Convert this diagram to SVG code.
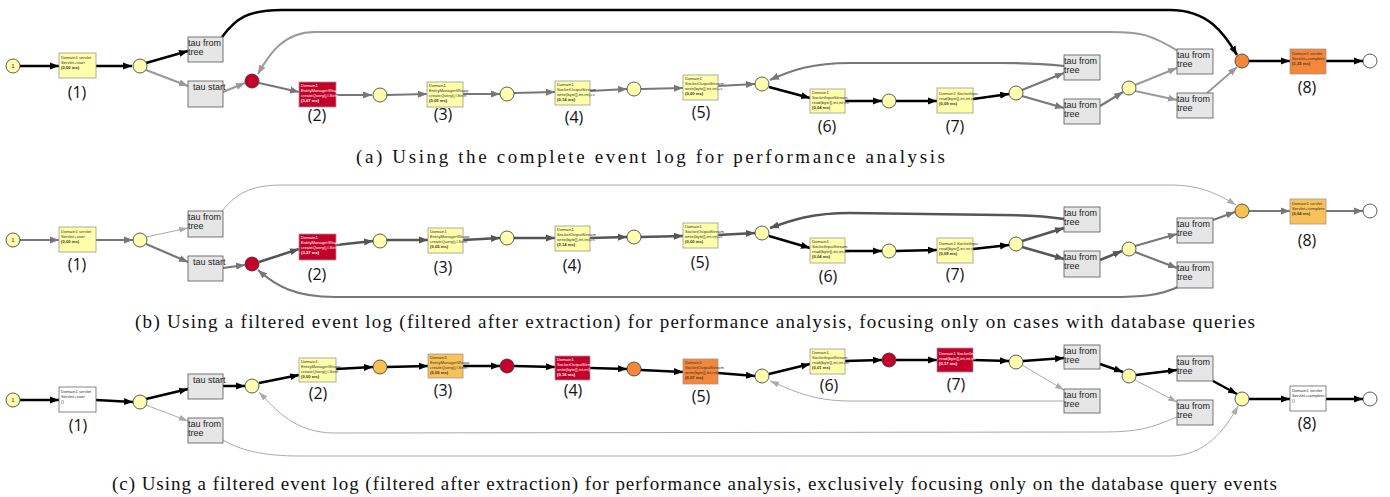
<svg xmlns="http://www.w3.org/2000/svg" width="1390" height="497" viewBox="0 0 1390 497">
<style>
.bg{fill:#fff}
.p{fill:#ffffb0;stroke:#333;stroke-width:.8}
.pr{fill:#c4002a;stroke:#333;stroke-width:.8}
.po{fill:#f5873a;stroke:#333;stroke-width:.8}
.py{fill:#f8c050;stroke:#333;stroke-width:.8}
.pw{fill:#fff;stroke:#333;stroke-width:.8}
.t{fill:#ffffaa;stroke:#999;stroke-width:.8}
.tr{fill:#c4002a;stroke:#999;stroke-width:.8}
.to{fill:#f5873a;stroke:#999;stroke-width:.8}
.ty{fill:#f8c258;stroke:#999;stroke-width:.8}
.tw{fill:#fff;stroke:#666;stroke-width:.8}
.tau{fill:#e6e6e6;stroke:#555;stroke-width:.8}
.tt{font-family:"Liberation Sans",Arial,sans-serif;font-size:4.2px;fill:#333}
.tw2{fill:#fff}
.b{font-weight:bold}
.taut{font-family:"Liberation Sans",Arial,sans-serif;font-size:9px;fill:#222}
.lbl{font-family:"Open Sans","Liberation Sans",sans-serif;font-size:16px;fill:#111;text-anchor:middle}
.num{font-family:"Liberation Sans",Arial,sans-serif;font-size:6px;fill:#333;text-anchor:middle}
.cap{font-family:"Liberation Serif","Times New Roman",serif;font-size:19px;fill:#111}
.e{fill:none}
.k{stroke:#000;stroke-width:2.5;marker-end:url(#mk)}
.d{stroke:#555;stroke-width:2.5;marker-end:url(#md)}
.g{stroke:#777;stroke-width:2.2;marker-end:url(#mg)}
.l{stroke:#999;stroke-width:2;marker-end:url(#ml)}
.th{stroke:#aaa;stroke-width:1;marker-end:url(#mt)}
</style>
<defs>
<marker id="mk" markerUnits="userSpaceOnUse" markerWidth="10" markerHeight="8" refX="9" refY="4" orient="auto"><path d="M0,0.5 L9,4 L0,7.5 z" fill="#000"/></marker>
<marker id="md" markerUnits="userSpaceOnUse" markerWidth="10" markerHeight="8" refX="9" refY="4" orient="auto"><path d="M0,0.5 L9,4 L0,7.5 z" fill="#555"/></marker>
<marker id="mg" markerUnits="userSpaceOnUse" markerWidth="10" markerHeight="8" refX="9" refY="4" orient="auto"><path d="M0,0.5 L9,4 L0,7.5 z" fill="#777"/></marker>
<marker id="ml" markerUnits="userSpaceOnUse" markerWidth="10" markerHeight="8" refX="9" refY="4" orient="auto"><path d="M0,0.5 L9,4 L0,7.5 z" fill="#999"/></marker>
<marker id="mt" markerUnits="userSpaceOnUse" markerWidth="10" markerHeight="8" refX="9" refY="4" orient="auto"><path d="M0,1 L9,4 L0,7 z" fill="#aaa"/></marker>
</defs>
<rect class="bg" width="1390" height="497"/>

<!-- ===== connectors ===== -->
<g id="connectors" class="e">
<!-- row a -->
<path class="k" d="M222,37 C236,18 248,10 282,10 L1170,10 C1208,10 1224,33 1237,55"/>
<path class="l" d="M1178,51 C1150,34 1140,32 1110,32 L315,32 C285,32 270,52 258,74"/>
<path class="g" d="M1064,66 C1045,64 1020,63 1000,63 L850,63 C812,63 792,70 770,80"/>
<line class="k" x1="20" y1="66" x2="59" y2="66"/>
<line class="k" x1="96" y1="66" x2="132" y2="66"/>
<line class="k" x1="146" y1="63" x2="188" y2="51"/>
<line class="l" x1="146" y1="70" x2="188" y2="86"/>
<line class="l" x1="223" y1="92" x2="245" y2="83"/>
<line class="g" x1="259" y1="83" x2="299" y2="92"/>
<line class="g" x1="336" y1="95" x2="372" y2="95"/>
<line class="g" x1="387" y1="95" x2="427" y2="94"/>
<line class="g" x1="463" y1="94" x2="500" y2="94"/>
<line class="g" x1="514" y1="93" x2="555" y2="92"/>
<line class="g" x1="590" y1="91" x2="627" y2="89"/>
<line class="g" x1="641" y1="89" x2="683" y2="88"/>
<line class="g" x1="718" y1="86" x2="755" y2="84"/>
<line class="k" x1="769" y1="87" x2="810" y2="98"/>
<line class="k" x1="845" y1="101" x2="882" y2="101"/>
<line class="k" x1="896" y1="101" x2="937" y2="101"/>
<line class="k" x1="973" y1="99" x2="1009" y2="94"/>
<line class="g" x1="1022" y1="90" x2="1064" y2="73"/>
<line class="g" x1="1022" y1="96" x2="1064" y2="108"/>
<line class="g" x1="1100" y1="106" x2="1123" y2="92"/>
<line class="l" x1="1135" y1="85" x2="1177" y2="68"/>
<line class="l" x1="1135" y1="91" x2="1177" y2="100"/>
<line class="l" x1="1207" y1="93" x2="1237" y2="67"/>
<line class="k" x1="1249" y1="61" x2="1290" y2="61"/>
<line class="k" x1="1326" y1="61" x2="1363" y2="61"/>
<!-- row b -->
<path class="th" d="M222,211 C236,194 250,185 282,185 L1170,185 C1200,185 1218,194 1236,205"/>
<path class="d" d="M1064,219 C1040,215 1020,215 1000,215 L850,213 C812,213 792,220 770,228"/>
<path class="g" d="M1180,286 C1160,296 1140,297 1110,297 L335,297 C295,297 276,286 258,270"/>
<line class="g" x1="20" y1="240" x2="59" y2="240"/>
<line class="g" x1="96" y1="240" x2="133" y2="240"/>
<line class="th" x1="146" y1="237" x2="188" y2="228"/>
<line class="g" x1="146" y1="244" x2="188" y2="262"/>
<line class="g" x1="223" y1="268" x2="245" y2="265"/>
<line class="d" x1="259" y1="262" x2="299" y2="249"/>
<line class="d" x1="336" y1="245" x2="373" y2="241"/>
<line class="d" x1="387" y1="240" x2="428" y2="240"/>
<line class="d" x1="463" y1="240" x2="500" y2="238"/>
<line class="d" x1="514" y1="238" x2="555" y2="238"/>
<line class="d" x1="590" y1="238" x2="627" y2="237"/>
<line class="d" x1="641" y1="237" x2="683" y2="236"/>
<line class="d" x1="718" y1="235" x2="755" y2="233"/>
<line class="k" x1="769" y1="236" x2="810" y2="248"/>
<line class="k" x1="845" y1="251" x2="882" y2="251"/>
<line class="k" x1="896" y1="251" x2="937" y2="250"/>
<line class="k" x1="973" y1="249" x2="1009" y2="245"/>
<line class="d" x1="1022" y1="241" x2="1064" y2="228"/>
<line class="d" x1="1022" y1="247" x2="1064" y2="259"/>
<line class="d" x1="1100" y1="260" x2="1122" y2="251"/>
<line class="g" x1="1135" y1="246" x2="1177" y2="234"/>
<line class="g" x1="1135" y1="252" x2="1177" y2="268"/>
<line class="g" x1="1213" y1="220" x2="1235" y2="212"/>
<line class="g" x1="1249" y1="211" x2="1290" y2="211"/>
<line class="g" x1="1326" y1="211" x2="1363" y2="211"/>
<!-- row c -->
<path class="th" d="M1064,401 L850,401 C812,401 792,390 770,381"/>
<path class="th" d="M1177,417 C1150,428 1140,432 1100,432 L335,433 C295,433 276,410 259,392"/>
<path class="th" d="M223,440 C240,450 262,456 300,456 L1170,456 C1205,456 1225,430 1238,406"/>
<line class="k" x1="20" y1="400" x2="59" y2="400"/>
<line class="k" x1="96" y1="400" x2="133" y2="402"/>
<line class="k" x1="146" y1="399" x2="188" y2="389"/>
<line class="th" x1="146" y1="405" x2="188" y2="421"/>
<line class="k" x1="223" y1="386" x2="245" y2="386"/>
<line class="k" x1="259" y1="383" x2="299" y2="375"/>
<line class="k" x1="336" y1="369" x2="373" y2="367"/>
<line class="k" x1="387" y1="367" x2="428" y2="366"/>
<line class="k" x1="463" y1="366" x2="500" y2="366"/>
<line class="k" x1="514" y1="366" x2="555" y2="367"/>
<line class="k" x1="590" y1="368" x2="627" y2="369"/>
<line class="k" x1="641" y1="370" x2="683" y2="372"/>
<line class="k" x1="718" y1="373" x2="755" y2="376"/>
<line class="k" x1="769" y1="374" x2="810" y2="364"/>
<line class="k" x1="845" y1="361" x2="882" y2="360"/>
<line class="k" x1="896" y1="360" x2="937" y2="360"/>
<line class="k" x1="973" y1="360" x2="1009" y2="361"/>
<line class="k" x1="1023" y1="361" x2="1064" y2="358"/>
<line class="th" x1="1022" y1="365" x2="1064" y2="390"/>
<line class="k" x1="1100" y1="364" x2="1123" y2="372"/>
<line class="k" x1="1136" y1="375" x2="1177" y2="370"/>
<line class="th" x1="1135" y1="380" x2="1177" y2="402"/>
<line class="k" x1="1213" y1="381" x2="1237" y2="394"/>
<line class="k" x1="1249" y1="399" x2="1290" y2="399"/>
<line class="k" x1="1326" y1="399" x2="1363" y2="399"/>
</g>

<!-- ===== row a nodes ===== -->
<g id="a-start"><circle class="p" cx="13" cy="66" r="7"/><text class="num" x="13" y="68">1</text></g>
<g id="a-t1"><rect class="t" x="59" y="53" width="37" height="25"/><text class="tt" x="61" y="59">Domain1 servlet</text><text class="tt" x="61" y="64">Servlet+start</text><text class="tt b" x="61" y="69">(0,00 ms)</text><text class="lbl" x="77" y="98">(1)</text></g>
<g id="a-p1"><circle class="p" cx="140" cy="66" r="7"/></g>
<g id="a-tau1"><rect class="tau" x="188" y="37" width="35" height="25"/><text class="taut" x="188" y="46">tau from</text><text class="taut" x="188" y="55">tree</text></g>
<g id="a-tau2"><rect class="tau" x="188" y="81" width="35" height="26"/><text class="taut" x="193" y="90">tau start</text></g>
<g id="a-p2"><circle class="pr" cx="252" cy="81" r="7"/></g>
<g id="a-t2"><rect class="tr" x="299" y="82" width="37" height="25"/><text class="tt tw2" x="301" y="87">Domain1</text><text class="tt tw2" x="301" y="92">EntityManagerWrapp</text><text class="tt tw2" x="301" y="97">createQuery(j.l.Strin</text><text class="tt tw2 b" x="301" y="102">(3,67 ms)</text><text class="lbl" x="317" y="121">(2)</text></g>
<g id="a-p3"><circle class="p" cx="380" cy="95" r="7"/></g>
<g id="a-t3"><rect class="t" x="427" y="82" width="36" height="25"/><text class="tt" x="429" y="87">Domain1</text><text class="tt" x="429" y="92">EntityManagerWrapp</text><text class="tt" x="429" y="97">createQuery(j.l.Strin</text><text class="tt b" x="429" y="102">(0,05 ms)</text><text class="lbl" x="443" y="120">(3)</text></g>
<g id="a-p4"><circle class="p" cx="507" cy="94" r="7"/></g>
<g id="a-t4"><rect class="t" x="555" y="81" width="35" height="24"/><text class="tt" x="557" y="86">Domain1</text><text class="tt" x="557" y="91">SocketOutputStream</text><text class="tt" x="557" y="96">write(byte[],int,int)+s</text><text class="tt b" x="557" y="101">(0,14 ms)</text><text class="lbl" x="574" y="123">(4)</text></g>
<g id="a-p5"><circle class="p" cx="634" cy="89" r="7"/></g>
<g id="a-t5"><rect class="t" x="683" y="75" width="35" height="25"/><text class="tt" x="685" y="80">Domain1</text><text class="tt" x="685" y="85">SocketOutputStream</text><text class="tt" x="685" y="90">write(byte[],int,int)+c</text><text class="tt b" x="685" y="95">(0,00 ms)</text><text class="lbl" x="701" y="118">(5)</text></g>
<g id="a-p6"><circle class="p" cx="762" cy="84" r="7"/></g>
<g id="a-t6"><rect class="t" x="810" y="89" width="35" height="24"/><text class="tt" x="812" y="94">Domain1</text><text class="tt" x="812" y="99">SocketInputStream</text><text class="tt" x="812" y="104">read(byte[],int,int,int</text><text class="tt b" x="812" y="109">(0,04 ms)</text><text class="lbl" x="827" y="132">(6)</text></g>
<g id="a-p7"><circle class="p" cx="889" cy="101" r="7"/></g>
<g id="a-t7"><rect class="t" x="937" y="88" width="36" height="25"/><text class="tt" x="939" y="95">Domain1 SocketInpu</text><text class="tt" x="939" y="100">read(byte[],int,int,int</text><text class="tt b" x="939" y="105">(0,09 ms)</text><text class="lbl" x="955" y="132">(7)</text></g>
<g id="a-p8"><circle class="p" cx="1016" cy="93" r="7"/></g>
<g id="a-tau3"><rect class="tau" x="1064" y="55" width="36" height="25"/><text class="taut" x="1064" y="64">tau from</text><text class="taut" x="1064" y="73">tree</text></g>
<g id="a-tau4"><rect class="tau" x="1064" y="99" width="36" height="25"/><text class="taut" x="1064" y="108">tau from</text><text class="taut" x="1064" y="117">tree</text></g>
<g id="a-p9"><circle class="p" cx="1129" cy="88" r="7"/></g>
<g id="a-tau5"><rect class="tau" x="1177" y="49" width="36" height="25"/><text class="taut" x="1177" y="58">tau from</text><text class="taut" x="1177" y="67">tree</text></g>
<g id="a-tau6"><rect class="tau" x="1177" y="93" width="36" height="25"/><text class="taut" x="1177" y="102">tau from</text><text class="taut" x="1177" y="111">tree</text></g>
<g id="a-p10"><circle class="po" cx="1242" cy="61" r="7"/></g>
<g id="a-t8"><rect class="to" x="1290" y="49" width="36" height="25"/><text class="tt" x="1292" y="55">Domain1 servlet</text><text class="tt" x="1292" y="60">Servlet+complete</text><text class="tt b" x="1292" y="65">(1,35 ms)</text><text class="lbl" x="1307" y="93">(8)</text></g>
<g id="a-end"><circle class="pw" cx="1370" cy="61" r="7"/></g>
<text class="cap" x="356" y="163" textLength="589" lengthAdjust="spacing">(a) Using the complete event log for performance analysis</text>

<!-- ===== row b nodes ===== -->
<g id="b-start"><circle class="p" cx="13" cy="240" r="7"/><text class="num" x="13" y="242">1</text></g>
<g id="b-t1"><rect class="t" x="59" y="227" width="37" height="25"/><text class="tt" x="61" y="233">Domain1 servlet</text><text class="tt" x="61" y="238">Servlet+start</text><text class="tt b" x="61" y="243">(0,00 ms)</text><text class="lbl" x="77" y="270">(1)</text></g>
<g id="b-p1"><circle class="p" cx="140" cy="240" r="7"/></g>
<g id="b-tau1"><rect class="tau" x="188" y="211" width="35" height="26"/><text class="taut" x="188" y="220">tau from</text><text class="taut" x="188" y="229">tree</text></g>
<g id="b-tau2"><rect class="tau" x="188" y="256" width="35" height="25"/><text class="taut" x="193" y="265">tau start</text></g>
<g id="b-p2"><circle class="pr" cx="252" cy="264" r="7"/></g>
<g id="b-t2"><rect class="tr" x="299" y="234" width="37" height="26"/><text class="tt tw2" x="301" y="239">Domain1</text><text class="tt tw2" x="301" y="244">EntityManagerWrapp</text><text class="tt tw2" x="301" y="249">createQuery(j.l.Strin</text><text class="tt tw2 b" x="301" y="254">(3,57 ms)</text><text class="lbl" x="317" y="280">(2)</text></g>
<g id="b-p3"><circle class="p" cx="380" cy="241" r="7"/></g>
<g id="b-t3"><rect class="t" x="428" y="228" width="35" height="25"/><text class="tt" x="430" y="233">Domain1</text><text class="tt" x="430" y="238">EntityManagerWrapp</text><text class="tt" x="430" y="243">createQuery(j.l.Strin</text><text class="tt b" x="430" y="248">(0,05 ms)</text><text class="lbl" x="443" y="273">(3)</text></g>
<g id="b-p4"><circle class="p" cx="507" cy="238" r="7"/></g>
<g id="b-t4"><rect class="t" x="555" y="226" width="35" height="25"/><text class="tt" x="557" y="231">Domain1</text><text class="tt" x="557" y="236">SocketOutputStream</text><text class="tt" x="557" y="241">write(byte[],int,int)+s</text><text class="tt b" x="557" y="246">(0,14 ms)</text><text class="lbl" x="572" y="271">(4)</text></g>
<g id="b-p5"><circle class="p" cx="634" cy="237" r="7"/></g>
<g id="b-t5"><rect class="t" x="683" y="223" width="35" height="25"/><text class="tt" x="685" y="228">Domain1</text><text class="tt" x="685" y="233">SocketOutputStream</text><text class="tt" x="685" y="238">write(byte[],int,int)+c</text><text class="tt b" x="685" y="243">(0,00 ms)</text><text class="lbl" x="700" y="268">(5)</text></g>
<g id="b-p6"><circle class="p" cx="762" cy="233" r="7"/></g>
<g id="b-t6"><rect class="t" x="810" y="238" width="35" height="25"/><text class="tt" x="812" y="243">Domain1</text><text class="tt" x="812" y="248">SocketInputStream</text><text class="tt" x="812" y="253">read(byte[],int,int,int</text><text class="tt b" x="812" y="258">(0,04 ms)</text><text class="lbl" x="828" y="282">(6)</text></g>
<g id="b-p7"><circle class="p" cx="889" cy="251" r="7"/></g>
<g id="b-t7"><rect class="t" x="937" y="238" width="36" height="25"/><text class="tt" x="939" y="245">Domain1 SocketInpu</text><text class="tt" x="939" y="250">read(byte[],int,int,int</text><text class="tt b" x="939" y="255">(0,09 ms)</text><text class="lbl" x="955" y="280">(7)</text></g>
<g id="b-p8"><circle class="p" cx="1016" cy="244" r="7"/></g>
<g id="b-tau3"><rect class="tau" x="1064" y="207" width="36" height="25"/><text class="taut" x="1064" y="216">tau from</text><text class="taut" x="1064" y="225">tree</text></g>
<g id="b-tau4"><rect class="tau" x="1064" y="251" width="36" height="26"/><text class="taut" x="1064" y="260">tau from</text><text class="taut" x="1064" y="269">tree</text></g>
<g id="b-p9"><circle class="p" cx="1129" cy="249" r="7"/></g>
<g id="b-tau5"><rect class="tau" x="1177" y="218" width="36" height="25"/><text class="taut" x="1177" y="227">tau from</text><text class="taut" x="1177" y="236">tree</text></g>
<g id="b-tau6"><rect class="tau" x="1177" y="262" width="36" height="26"/><text class="taut" x="1177" y="271">tau from</text><text class="taut" x="1177" y="280">tree</text></g>
<g id="b-p10"><circle class="py" cx="1242" cy="211" r="7"/></g>
<g id="b-t8"><rect class="ty" x="1290" y="199" width="36" height="25"/><text class="tt" x="1292" y="205">Domain1 servlet</text><text class="tt" x="1292" y="210">Servlet+complete</text><text class="tt b" x="1292" y="215">(0,64 ms)</text><text class="lbl" x="1307" y="246">(8)</text></g>
<g id="b-end"><circle class="pw" cx="1370" cy="211" r="7"/></g>
<text class="cap" x="135" y="328" textLength="1120" lengthAdjust="spacing">(b) Using a filtered event log (filtered after extraction) for performance analysis, focusing only on cases with database queries</text>

<!-- ===== row c nodes ===== -->
<g id="c-start"><circle class="p" cx="13" cy="400" r="7"/><text class="num" x="13" y="402">1</text></g>
<g id="c-t1"><rect class="tw" x="59" y="387" width="37" height="25"/><text class="tt" x="61" y="393">Domain1 servlet</text><text class="tt" x="61" y="398">Servlet+start</text><text class="tt" x="61" y="403">()</text><text class="lbl" x="78" y="431">(1)</text></g>
<g id="c-p1"><circle class="p" cx="140" cy="402" r="7"/></g>
<g id="c-tau1"><rect class="tau" x="188" y="374" width="35" height="25"/><text class="taut" x="193" y="383">tau start</text></g>
<g id="c-tau2"><rect class="tau" x="188" y="418" width="35" height="25"/><text class="taut" x="188" y="427">tau from</text><text class="taut" x="188" y="436">tree</text></g>
<g id="c-p2"><circle class="p" cx="252" cy="386" r="7"/></g>
<g id="c-t2"><rect class="t" x="299" y="358" width="37" height="24"/><text class="tt" x="301" y="363">Domain1</text><text class="tt" x="301" y="368">EntityManagerWrapp</text><text class="tt" x="301" y="373">createQuery(j.l.Strin</text><text class="tt b" x="301" y="378">(0,00 ms)</text><text class="lbl" x="318" y="399">(2)</text></g>
<g id="c-p3"><circle class="py" cx="380" cy="367" r="7"/></g>
<g id="c-t3"><rect class="ty" x="428" y="354" width="35" height="24"/><text class="tt" x="430" y="359">Domain1</text><text class="tt" x="430" y="364">EntityManagerWrapp</text><text class="tt" x="430" y="369">createQuery(j.l.Strin</text><text class="tt b" x="430" y="374">(0,05 ms)</text><text class="lbl" x="443" y="396">(3)</text></g>
<g id="c-p4"><circle class="pr" cx="507" cy="366" r="7"/></g>
<g id="c-t4"><rect class="tr" x="555" y="356" width="35" height="24"/><text class="tt tw2" x="557" y="361">Domain1</text><text class="tt tw2" x="557" y="366">SocketOutputStream</text><text class="tt tw2" x="557" y="371">write(byte[],int,int)+s</text><text class="tt tw2 b" x="557" y="376">(0,16 ms)</text><text class="lbl" x="573" y="396">(4)</text></g>
<g id="c-p5"><circle class="po" cx="634" cy="369" r="7"/></g>
<g id="c-t5"><rect class="to" x="683" y="359" width="35" height="25"/><text class="tt" x="685" y="364">Domain1</text><text class="tt" x="685" y="369">SocketOutputStream</text><text class="tt" x="685" y="374">write(byte[],int,int)+c</text><text class="tt b" x="685" y="379">(0,07 ms)</text><text class="lbl" x="701" y="402">(5)</text></g>
<g id="c-p6"><circle class="p" cx="762" cy="376" r="7"/></g>
<g id="c-t6"><rect class="t" x="810" y="349" width="35" height="25"/><text class="tt" x="812" y="354">Domain1</text><text class="tt" x="812" y="359">SocketInputStream</text><text class="tt" x="812" y="364">read(byte[],int,int,int</text><text class="tt b" x="812" y="369">(0,01 ms)</text><text class="lbl" x="829" y="391">(6)</text></g>
<g id="c-p7"><circle class="pr" cx="889" cy="360" r="7"/></g>
<g id="c-t7"><rect class="tr" x="937" y="348" width="36" height="24"/><text class="tt tw2" x="939" y="355">Domain1 SocketInpu</text><text class="tt tw2" x="939" y="360">read(byte[],int,int,int</text><text class="tt tw2 b" x="939" y="365">(0,17 ms)</text><text class="lbl" x="956" y="390">(7)</text></g>
<g id="c-p8"><circle class="p" cx="1016" cy="362" r="7"/></g>
<g id="c-tau3"><rect class="tau" x="1064" y="345" width="36" height="24"/><text class="taut" x="1064" y="354">tau from</text><text class="taut" x="1064" y="363">tree</text></g>
<g id="c-tau4"><rect class="tau" x="1064" y="389" width="36" height="24"/><text class="taut" x="1064" y="398">tau from</text><text class="taut" x="1064" y="407">tree</text></g>
<g id="c-p9"><circle class="p" cx="1129" cy="376" r="7"/></g>
<g id="c-tau5"><rect class="tau" x="1177" y="356" width="36" height="25"/><text class="taut" x="1177" y="365">tau from</text><text class="taut" x="1177" y="374">tree</text></g>
<g id="c-tau6"><rect class="tau" x="1177" y="400" width="36" height="25"/><text class="taut" x="1177" y="409">tau from</text><text class="taut" x="1177" y="418">tree</text></g>
<g id="c-p10"><circle class="p" cx="1242" cy="399" r="7"/></g>
<g id="c-t8"><rect class="tw" x="1290" y="386" width="36" height="25"/><text class="tt" x="1292" y="392">Domain1 servlet</text><text class="tt" x="1292" y="397">Servlet+complete</text><text class="tt" x="1292" y="402">()</text><text class="lbl" x="1307" y="429">(8)</text></g>
<g id="c-end"><circle class="pw" cx="1370" cy="399" r="7"/></g>
<text class="cap" x="112" y="490" textLength="1165" lengthAdjust="spacing">(c) Using a filtered event log (filtered after extraction) for performance analysis, exclusively focusing only on the database query events</text>
</svg>
